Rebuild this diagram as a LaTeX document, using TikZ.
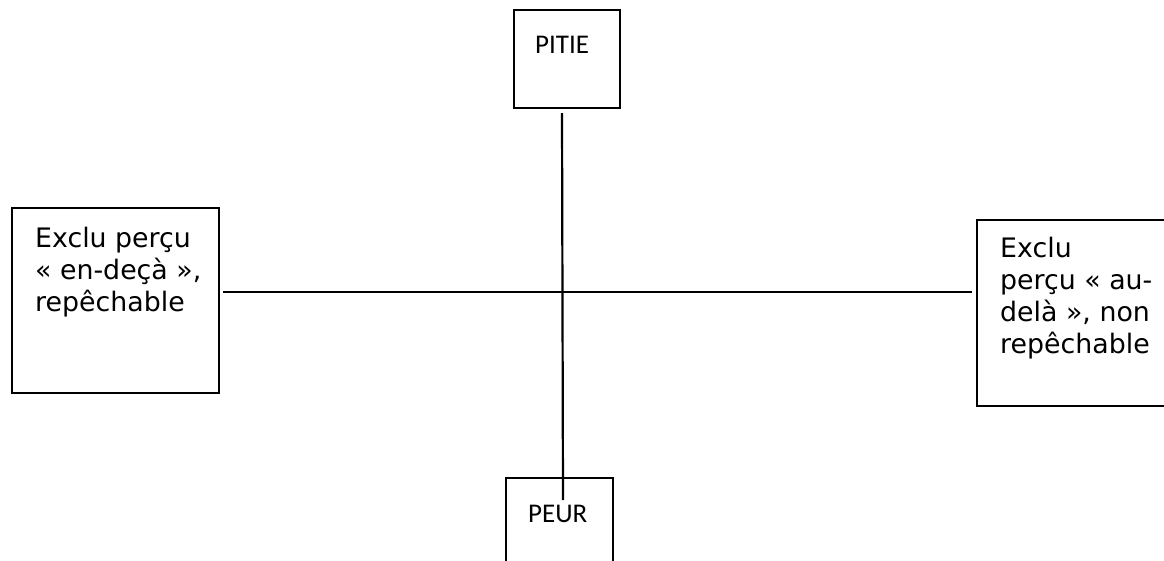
\documentclass[tikz,border=0pt]{standalone}
\usepackage{fontspec}
\setmainfont{DejaVu Sans}
\newfontfamily\calibri{Carlito}
\begin{document}
\begin{tikzpicture}[x=1pt,y=-1pt]
		\tikzset{cadre/.style={draw,line width=2.2pt,rectangle,inner sep=0pt},
			texte/.style={anchor=base west,inner sep=0pt,align=left,font=\fontsize{26.8}{32}\selectfont},
			titre/.style={anchor=base west,inner sep=0pt,font=\calibri\fontsize{27}{32}\selectfont}}
		\useasboundingbox (0,0) rectangle (1164,560);
		
		\node [cadre,minimum width=106pt,minimum height=98pt] (pitie) at (567,59) {};
		\node [cadre,minimum width=107pt,minimum height=102pt] (peur) at (559.5,529) {};
		\node [cadre,minimum width=207pt,minimum height=185pt] (endeca) at (115.5,300.5) {};
		\node [cadre,minimum width=213pt,minimum height=186pt] (audela) at (1083.5,313) {};
		
		% le point de base est celui de la derniere ligne
		\node [titre] (pitietxt) at (535,53) {PITIE};
		\node [titre] (peurtxt) at (528,522) {PEUR};
		\node [texte] (endecatxt) at (35,311) {Exclu perçu\\« en-deçà »,\\repêchable};
		\node [texte] (audelatxt) at (1000,353) {Exclu\\perçu « au-\\delà », non\\repêchable};
		
		\coordinate (haut) at (562,113);
		\coordinate (bas) at (563,500);
		\coordinate (gauche) at (223,292);
		\coordinate (droite) at (972,292);
		\draw [line width=2.2pt] (haut) -- (bas);
		\draw [line width=2.2pt] (gauche) -- (droite);
	\end{tikzpicture}
\end{document}
